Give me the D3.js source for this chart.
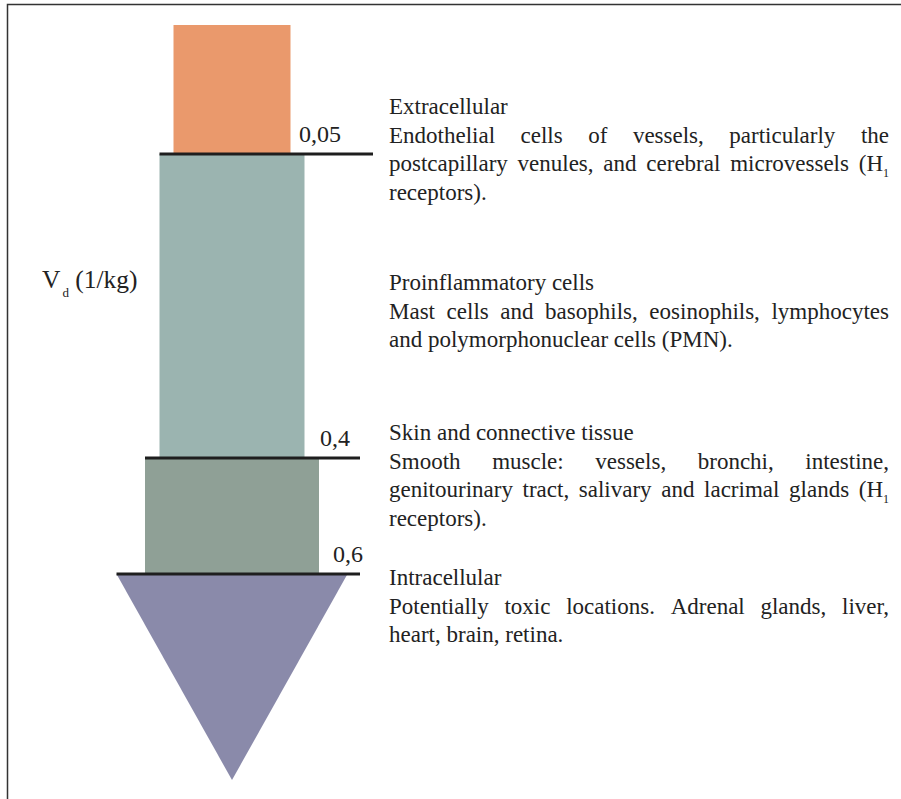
<!DOCTYPE html>
<html>
<meta charset="utf-8">
<style>
  body { margin: 0; background: #fff; }
  svg text { font-family: "Liberation Serif", "Times New Roman", serif; fill: #222; }
</style>
<body>
<script src="https://cdn.jsdelivr.net/npm/d3@7"></script>
<script>
  // ---- data ----
  const boundaryValues = [0.05, 0.4, 0.6];
  const boundaryLabels = ["0,05", "0,4", "0,6"];
  const compartments = ["Extracellular", "Proinflammatory cells", "Skin and connective tissue", "Intracellular"];
  // "_1" marks a subscript 1
  const descriptions = [
    ["Endothelial cells of vessels, particularly the",
     "postcapillary venules, and cerebral microvessels (H_1",
     "receptors)."],
    ["Mast cells and basophils, eosinophils, lymphocytes",
     "and polymorphonuclear cells (PMN)."],
    ["Smooth muscle: vessels, bronchi, intestine,",
     "genitourinary tract, salivary and lacrimal glands (H_1",
     "receptors)."],
    ["Potentially toxic locations. Adrenal glands, liver,",
     "heart, brain, retina."]
  ];
  const axisLabel = "V";
  const axisSub = "d";
  const axisUnit = " (1/kg)";

  // ---- layout ----
  const width = 901, height = 799;
  const cx = 232;
  const bandWidths = [117, 145, 174, 231];
  const colors = ["#ea996c", "#9bb4b0", "#8fa096", "#8a8aaa"];
  const lineRight = [373, 360, 360];
  const labelX = [341, 350, 363];
  const textX = 389, textRight = 889, lineH = 28.5, fs = 23;
  const textTop = [114, 290, 440, 585];

  let svg = d3.select("body").append("svg")
    .attr("width", width)
    .attr("height", height);

  // piecewise scale: top of the column, the three boundaries, tip of the arrow
  let y = d3.scaleLinear()
    .domain([0].concat(boundaryValues, [1]))
    .range([25, 154, 458, 574, 780]);

  let stops = [0].concat(boundaryValues, [1]);

  // frame
  svg.append("path")
    .attr("d", `M7.5,${height}V4.5H${width}`)
    .attr("fill", "none")
    .attr("stroke", "#333")
    .attr("stroke-width", 1.5);

  // the three rectangular bands
  svg.selectAll(".band")
    .data(d3.range(3))
    .join("rect")
    .attr("class", "band")
    .attr("x", i => cx - bandWidths[i] / 2)
    .attr("width", i => bandWidths[i])
    .attr("y", i => y(stops[i]))
    .attr("height", i => y(stops[i + 1]) - y(stops[i]))
    .attr("fill", i => colors[i]);

  // arrow head (intracellular)
  let tw = bandWidths[3] / 2;
  svg.append("path")
    .attr("d", `M${cx - tw},${y(0.6)}L${cx + tw},${y(0.6)}L${cx},${y(1)}Z`)
    .attr("fill", colors[3]);

  // boundary lines
  svg.selectAll(".bound")
    .data(boundaryValues)
    .join("line")
    .attr("class", "bound")
    .attr("x1", (d, i) => cx - bandWidths[i + 1] / 2)
    .attr("x2", (d, i) => lineRight[i])
    .attr("y1", d => y(d))
    .attr("y2", d => y(d))
    .attr("stroke", "#1e1e1e")
    .attr("stroke-width", 3);

  svg.selectAll(".blabel")
    .data(boundaryLabels)
    .join("text")
    .attr("class", "blabel")
    .attr("x", (d, i) => labelX[i])
    .attr("y", (d, i) => y(boundaryValues[i]) - 12)
    .attr("text-anchor", "end")
    .style("font-size", "24px")
    .text(d => d);

  // V_d (1/kg)
  let vt = svg.append("text")
    .attr("x", 42).attr("y", 288)
    .style("font-size", "25.5px");
  vt.append("tspan").text(axisLabel);
  vt.append("tspan").attr("dy", 9).attr("dx", 2).style("font-size", "13px").text(axisSub);
  vt.append("tspan").attr("dy", -9).text(axisUnit);

  // justified text blocks
  function wordWidth(w) {
    let t = svg.append("text").style("font-size", fs + "px");
    addWord(t, w);
    let n = t.node().getComputedTextLength();
    t.remove();
    return n;
  }
  function addWord(t, w) {
    let parts = w.split("_");
    t.append("tspan").text(parts[0]);
    if (parts.length > 1) {
      t.append("tspan").attr("dy", 6).style("font-size", "12px").text(parts[1]);
      t.append("tspan").attr("dy", -6).text("");
    }
  }

  compartments.forEach((title, k) => {
    let y0 = textTop[k];
    svg.append("text")
      .attr("x", textX).attr("y", y0)
      .style("font-size", fs + "px")
      .text(title);
    let lines = descriptions[k];
    lines.forEach((ln, j) => {
      let words = ln.split(" ");
      let ws = words.map(wordWidth);
      let last = j === lines.length - 1;
      let space = wordWidth("a b") - wordWidth("ab");
      let gap = space;
      if (!last && words.length > 1) {
        gap = (textRight - textX - d3.sum(ws)) / (words.length - 1);
      }
      let x = textX;
      words.forEach((w, m) => {
        let t = svg.append("text")
          .attr("x", x).attr("y", y0 + lineH * (j + 1))
          .style("font-size", fs + "px");
        addWord(t, w);
        x += ws[m] + gap;
      });
    });
  });
</script>
</body>
</html>
